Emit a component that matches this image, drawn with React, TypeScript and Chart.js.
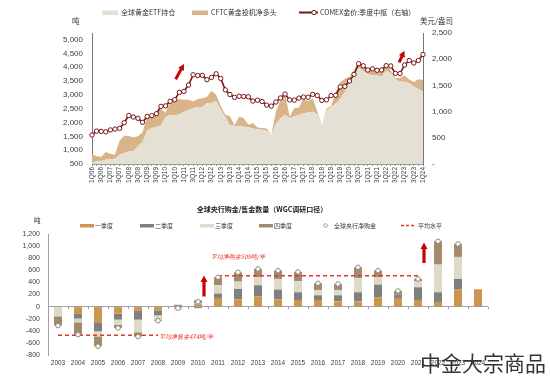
import React, { useEffect, useRef } from 'react';
import { Chart, registerables } from 'chart.js';

Chart.register(...registerables);

const FONT = '"Liberation Sans", "Noto Sans CJK SC", sans-serif';
const CJK = '"Noto Sans CJK SC", "Liberation Sans", sans-serif';

// ---------- Top chart data ----------
const quarterLabels = [
  '1Q06', '2Q06', '3Q06', '4Q06', '1Q07', '2Q07', '3Q07', '4Q07',
  '1Q08', '2Q08', '3Q08', '4Q08', '1Q09', '2Q09', '3Q09', '4Q09',
  '1Q10', '2Q10', '3Q10', '4Q10', '1Q11', '2Q11', '3Q11', '4Q11',
  '1Q12', '2Q12', '3Q12', '4Q12', '1Q13', '2Q13', '3Q13', '4Q13',
  '1Q14', '2Q14', '3Q14', '4Q14', '1Q15', '2Q15', '3Q15', '4Q15',
  '1Q16', '2Q16', '3Q16', '4Q16', '1Q17', '2Q17', '3Q17', '4Q17',
  '1Q18', '2Q18', '3Q18', '4Q18', '1Q19', '2Q19', '3Q19', '4Q19',
  '1Q20', '2Q20', '3Q20', '4Q20', '1Q21', '2Q21', '3Q21', '4Q21',
  '1Q22', '2Q22', '3Q22', '4Q22', '1Q23', '2Q23', '3Q23', '4Q23',
  '1Q24',
];
const leftTicks = [500, 1000, 1500, 2000, 2500, 3000, 3500, 4000, 4500, 5000];
const rightTicks = [0, 500, 1000, 1500, 2000, 2500];

// 全球黄金ETF持仓 (吨)
const etfHoldings = [
  560, 590, 610, 650, 670, 690, 830, 900,
  950, 960, 1150, 1300, 1700, 1800, 1850, 1900,
  2200, 2280, 2260, 2300, 2380, 2450, 2520, 2560,
  2560, 2700, 2700, 2790, 2450, 2200, 1900, 1880,
  1860, 1850, 1830, 1780, 1760, 1740, 1700, 1560,
  1950, 2150, 2280, 2150, 2230, 2270, 2330, 2360,
  2400, 2300, 1900, 2420, 2560, 2680, 2850, 3100,
  3550, 3900, 3980, 3850, 3750, 3700, 3700, 3650,
  3880, 3780, 3550, 3480, 3470, 3420, 3300, 3200,
  3120,
];

// CFTC黄金投机净多头 (吨), stacked above ETF
const cftcNetLong = [
  290, 190, 150, 280, 200, 140, 520, 620,
  560, 510, 350, 350, 500, 450, 500, 600,
  150, 470, 570, 540, 440, 370, 240, 290,
  320, 220, 450, 210, 150, 80, 330, 20,
  360, 300, 90, 200, 60, 60, 80, 0,
  450, 650, 770, 50, 290, 260, 550, 400,
  480, 100, 0, 80, 40, 420, 600, 480,
  100, 0, 220, 230, 150, 200, 130, 230,
  250, 100, 50, 140, 230, 130, 160, 360,
  420,
];

// COMEX金价:季度中枢 (美元/盎司)
const comexGold = [
  554, 628, 622, 614, 650, 667, 680, 788,
  925, 896, 872, 795, 908, 922, 960, 1100,
  1109, 1197, 1227, 1367, 1386, 1506, 1702, 1688,
  1691, 1609, 1652, 1722, 1632, 1415, 1326, 1272,
  1293, 1288, 1282, 1201, 1218, 1192, 1124, 1105,
  1183, 1260, 1335, 1222, 1219, 1257, 1278, 1275,
  1329, 1306, 1213, 1226, 1304, 1310, 1472, 1481,
  1583, 1711, 1915, 1874, 1794, 1816, 1789, 1795,
  1877, 1871, 1729, 1726, 1890, 1976, 1928, 1976,
  2090,
];

// ---------- Bottom chart data ----------
const years = [
  '2003', '2004', '2005', '2006', '2007', '2008', '2009', '2010', '2011', '2012', '2013',
  '2014', '2015', '2016', '2017', '2018', '2019', '2020', '2021', '2022', '2023', '2024',
];
const q1 = [0, -121, -270, -116, -72, -72, -15, 40, 143, 121, 171, 116, 110, 110, 88, 83, 149, 143, 110, 77, 281, 287];
const q2 = [0, -77, -138, -99, -143, -72, -10, -25, 72, 171, 182, 165, 127, 77, 99, 154, 215, 55, 209, 160, 176, null];
const q3 = [-160, -61, -83, -83, -209, -72, -30, 10, 138, 121, 132, 176, 182, 88, 88, 237, 121, 0, 99, 457, 364, null];
const q4 = [-155, -204, -165, -55, -72, -17, 30, 55, 132, 154, 138, 138, 154, 110, 99, 176, 110, 61, 39, 386, 215, null];
const netPurchases = [-315, -463, -656, -353, -496, -233, -25, 80, 485, 567, 623, 595, 573, 385, 374, 650, 595, 259, 457, 1080, 1036, null];
const avgSellLine = [-474, -474, -474, -474, -474, -474, null, null, null, null, null, null, null, null, null, null, null, null, null, null, null, null];
const avgBuyLine = [null, null, null, null, null, null, null, null, 509, 509, 509, 509, 509, 509, 509, 509, 509, 509, 509, null, null, null];

const C_ETF = '#E4E1D4';
const C_CFTC = '#D8B488';
const C_GOLD = '#7B1416';
const C_Q1 = '#CC9650';
const C_Q2 = '#808080';
const C_Q3 = '#DDDAC5';
const C_Q4 = '#A5896B';
const C_RED = '#E3342B';
const C_ARROW = '#C80000';

function drawArrow(ctx: CanvasRenderingContext2D, x1: number, y1: number, x2: number, y2: number, shaft: number, headLen: number, headW: number) {
  const dx = x2 - x1;
  const dy = y2 - y1;
  const len = Math.hypot(dx, dy);
  const ux = dx / len;
  const uy = dy / len;
  const px = -uy;
  const py = ux;
  const bx = x2 - ux * headLen;
  const by = y2 - uy * headLen;
  ctx.beginPath();
  ctx.moveTo(x1 + px * shaft / 2, y1 + py * shaft / 2);
  ctx.lineTo(bx + px * shaft / 2, by + py * shaft / 2);
  ctx.lineTo(bx + px * headW / 2, by + py * headW / 2);
  ctx.lineTo(x2, y2);
  ctx.lineTo(bx - px * headW / 2, by - py * headW / 2);
  ctx.lineTo(bx - px * shaft / 2, by - py * shaft / 2);
  ctx.lineTo(x1 - px * shaft / 2, y1 - py * shaft / 2);
  ctx.closePath();
  ctx.fillStyle = C_ARROW;
  ctx.fill();
}

const topDecor = {
  id: 'topDecor',
  afterDraw(chart: any) {
    const { ctx } = chart;
    const x = chart.scales.x;
    const yl = chart.scales.y;
    ctx.save();
    ctx.fillStyle = '#333';
    ctx.textBaseline = 'middle';
    ctx.textAlign = 'left';
    ctx.font = `7.5px ${CJK}`;
    ctx.fillText('吨', 72, 21);
    ctx.fillText('美元/盎司', 420, 21);

    // legend
    const ly = 12.5;
    ctx.font = `7px ${CJK}`;
    ctx.fillStyle = C_ETF;
    ctx.fillRect(102, ly - 2, 16, 4.5);
    ctx.fillStyle = '#333';
    ctx.fillText(chart.data.datasets[0].label, 121, ly);
    ctx.fillStyle = C_CFTC;
    ctx.fillRect(192, ly - 2, 16, 4.5);
    ctx.fillStyle = '#333';
    ctx.fillText(chart.data.datasets[1].label, 211, ly);
    ctx.strokeStyle = C_GOLD;
    ctx.lineWidth = 2;
    ctx.beginPath();
    ctx.moveTo(299, ly);
    ctx.lineTo(318, ly);
    ctx.stroke();
    ctx.beginPath();
    ctx.arc(314, ly, 2.2, 0, Math.PI * 2);
    ctx.fillStyle = '#fff';
    ctx.fill();
    ctx.lineWidth = 1;
    ctx.stroke();
    ctx.fillStyle = '#333';
    ctx.fillText(chart.data.datasets[2].label, 320, ly);

    // arrows
    drawArrow(ctx, x.getPixelForValue(18.2), yl.getPixelForValue(3560), x.getPixelForValue(20.0), yl.getPixelForValue(4110), 3, 6, 6.5);
    drawArrow(ctx, x.getPixelForValue(66.8), yl.getPixelForValue(4170), x.getPixelForValue(67.95), yl.getPixelForValue(4590), 3, 6, 6.5);
    ctx.restore();
  },
};

const bottomDecor = {
  id: 'bottomDecor',
  afterDraw(chart: any) {
    const { ctx } = chart;
    const x = chart.scales.x;
    const y = chart.scales.y;
    ctx.save();
    ctx.textBaseline = 'middle';
    // title
    ctx.fillStyle = '#222';
    ctx.textAlign = 'center';
    ctx.font = `bold 7px ${CJK}`;
    ctx.fillText('全球央行购金/售金数量（WGC调研口径）', 262, 14.5);
    // unit
    ctx.textAlign = 'left';
    ctx.font = `6.5px ${CJK}`;
    ctx.fillStyle = '#333';
    ctx.fillText('吨', 34, 26);

    // legend
    const ly = 30.5;
    ctx.font = `6px ${CJK}`;
    const ds = chart.data.datasets;
    const boxes = [
      { sx: 80, tx: 95, c: C_Q1, label: ds[0].label },
      { sx: 140, tx: 155, c: C_Q2, label: ds[1].label },
      { sx: 200, tx: 215, c: C_Q3, label: ds[2].label },
      { sx: 259, tx: 274, c: C_Q4, label: ds[3].label },
    ];
    boxes.forEach((b) => {
      ctx.fillStyle = b.c;
      ctx.fillRect(b.sx, ly - 1.5, 14, 3.5);
      ctx.fillStyle = '#333';
      ctx.fillText(b.label, b.tx, ly);
    });
    ctx.beginPath();
    ctx.arc(325.5, ly, 1.8, 0, Math.PI * 2);
    ctx.fillStyle = '#fff';
    ctx.fill();
    ctx.strokeStyle = '#888';
    ctx.lineWidth = 0.8;
    ctx.stroke();
    ctx.fillStyle = '#333';
    ctx.fillText(ds[4].label, 334, ly);
    ctx.strokeStyle = C_RED;
    ctx.lineWidth = 1.3;
    ctx.setLineDash([3, 2]);
    ctx.beginPath();
    ctx.moveTo(401, ly);
    ctx.lineTo(416, ly);
    ctx.stroke();
    ctx.setLineDash([]);
    ctx.fillStyle = '#333';
    ctx.fillText(ds[5].label, 418, ly);

    // small category ticks on the zero line
    const zy = y.getPixelForValue(0);
    ctx.strokeStyle = '#a0a0a0';
    ctx.lineWidth = 1;
    for (let k = 0; k <= years.length; k++) {
      const px = Math.round(x.getPixelForValue(k - 0.5)) + 0.5;
      ctx.beginPath();
      ctx.moveTo(px, zy);
      ctx.lineTo(px, zy + 2.5);
      ctx.stroke();
    }

    // average labels
    ctx.font = `italic 6px ${CJK}`;
    ctx.fillStyle = C_RED;
    ctx.textAlign = 'left';
    ctx.fillText('平均净售金474吨/年', x.getPixelForValue(5) + 1, y.getPixelForValue(-474) + 1.5);
    ctx.textAlign = 'center';
    ctx.fillText('平均净购金509吨/年', x.getPixelForValue(9), y.getPixelForValue(826));

    // arrows
    drawArrow(ctx, x.getPixelForValue(7.3), y.getPixelForValue(165), x.getPixelForValue(7.3), y.getPixelForValue(515), 3.2, 6.5, 7);
    drawArrow(ctx, x.getPixelForValue(18.3), y.getPixelForValue(722), x.getPixelForValue(18.3), y.getPixelForValue(1058), 3.2, 6.5, 7);

    // watermark
    ctx.font = `21px ${CJK}`;
    ctx.textAlign = 'right';
    ctx.fillStyle = '#333';
    ctx.fillText('中金大宗商品', 546, 168.5);
    ctx.restore();
  },
};

export default function App() {
  const topRef = useRef<HTMLCanvasElement>(null);
  const botRef = useRef<HTMLCanvasElement>(null);

  useEffect(() => {
    const tickFont = { family: FONT, size: 8 };
    const top = new Chart(topRef.current as HTMLCanvasElement, {
      type: 'line',
      data: {
        labels: quarterLabels,
        datasets: [
          {
            label: '全球黄金ETF持仓',
            data: etfHoldings,
            yAxisID: 'y',
            backgroundColor: C_ETF,
            borderWidth: 0,
            pointRadius: 0,
            fill: 'origin',
            order: 1,
          },
          {
            label: 'CFTC黄金投机净多头',
            data: cftcNetLong,
            yAxisID: 'y',
            backgroundColor: C_CFTC,
            borderWidth: 0,
            pointRadius: 0,
            fill: '-1',
            order: 2,
          },
          {
            label: 'COMEX金价:季度中枢（右轴）',
            data: comexGold,
            yAxisID: 'y1',
            borderColor: C_GOLD,
            borderWidth: 1.6,
            pointRadius: 2.2,
            pointBackgroundColor: '#fff',
            pointBorderColor: C_GOLD,
            pointBorderWidth: 1,
            fill: false,
            tension: 0,
            order: 0,
          },
        ],
      },
      options: {
        animation: false,
        responsive: false,
        devicePixelRatio: 1,
        layout: { padding: { top: 33, left: 0, right: 0, bottom: 0 } },
        plugins: { legend: { display: false }, tooltip: { enabled: false }, title: { display: false } },
        scales: {
          x: {
            offset: false,
            grid: { display: true, drawOnChartArea: false, tickLength: 2, color: '#999', offset: false },
            border: { display: true, color: '#999' },
            ticks: {
              autoSkip: false,
              minRotation: 90,
              maxRotation: 90,
              padding: 1,
              font: { family: FONT, size: 6.5 },
              color: '#404040',
              callback: (_v: any, i: number) => (i % 2 === 0 ? quarterLabels[i] : ''),
            },
            afterFit: (s: any) => { s.height = 31; },
          },
          y: {
            position: 'left',
            stacked: true,
            min: 500,
            max: 5234,
            grid: { display: false, drawTicks: false },
            border: { display: true, color: '#777' },
            ticks: {
              autoSkip: false,
              padding: 9,
              font: tickFont,
              color: '#404040',
              callback: (v: any) => Number(v).toLocaleString('en-US'),
            },
            afterBuildTicks: (s: any) => { s.ticks = leftTicks.map((v) => ({ value: v })); },
            afterFit: (s: any) => { s.width = 92; },
          },
          y1: {
            position: 'right',
            min: 0,
            max: 2500,
            grid: { display: false, drawTicks: false },
            border: { display: true, color: '#777' },
            ticks: {
              autoSkip: false,
              padding: 9,
              font: tickFont,
              color: '#404040',
              callback: (v: any) => (Number(v) === 0 ? '-' : Number(v).toLocaleString('en-US')),
            },
            afterBuildTicks: (s: any) => { s.ticks = rightTicks.map((v) => ({ value: v })); },
            afterFit: (s: any) => { s.width = 127; },
          },
        },
      },
      plugins: [topDecor],
    });

    const bot = new Chart(botRef.current as HTMLCanvasElement, {
      type: 'bar',
      data: {
        labels: years,
        datasets: [
          { label: '一季度', data: q1, backgroundColor: C_Q1, stack: 'q', order: 3 },
          { label: '二季度', data: q2, backgroundColor: C_Q2, stack: 'q', order: 3 },
          { label: '三季度', data: q3, backgroundColor: C_Q3, stack: 'q', order: 3 },
          { label: '四季度', data: q4, backgroundColor: C_Q4, stack: 'q', order: 3 },
          {
            type: 'line',
            label: '全球央行净购金',
            data: netPurchases,
            stack: 'net',
            showLine: false,
            pointRadius: 2.3,
            pointBackgroundColor: '#fff',
            pointBorderColor: '#8a8a8a',
            pointBorderWidth: 1,
            order: 0,
          },
          {
            type: 'line',
            label: '平均水平',
            data: avgSellLine,
            stack: 'avgS',
            borderColor: C_RED,
            borderWidth: 1.6,
            borderDash: [4, 3],
            pointRadius: 0,
            spanGaps: false,
            order: 1,
          },
          {
            type: 'line',
            label: '平均水平 ',
            data: avgBuyLine,
            stack: 'avgB',
            borderColor: C_RED,
            borderWidth: 1.6,
            borderDash: [4, 3],
            pointRadius: 0,
            spanGaps: false,
            order: 1,
          },
        ] as any,
      },
      options: {
        animation: false,
        responsive: false,
        devicePixelRatio: 1,
        layout: { padding: { top: 39, left: 0, right: 62, bottom: 0 } },
        datasets: { bar: { categoryPercentage: 1, barPercentage: 0.4 } },
        plugins: { legend: { display: false }, tooltip: { enabled: false }, title: { display: false } },
        scales: {
          x: {
            stacked: true,
            grid: { display: false, drawTicks: false },
            border: { display: false },
            ticks: { padding: 4, font: { family: FONT, size: 6.5 }, color: '#404040', autoSkip: false, maxRotation: 0 },
            afterFit: (s: any) => { s.height = 26; },
          },
          y: {
            stacked: true,
            min: -800,
            max: 1200,
            grid: {
              drawTicks: false,
              color: (c: any) => (c.tick && c.tick.value === 0 ? '#a0a0a0' : 'rgba(0,0,0,0)'),
            },
            border: { display: true, color: '#a0a0a0' },
            ticks: {
              stepSize: 200,
              padding: 8,
              font: { family: FONT, size: 7 },
              color: '#404040',
              callback: (v: any) => Number(v).toLocaleString('en-US'),
            },
            afterFit: (s: any) => { s.width = 48; },
          },
        },
      },
      plugins: [bottomDecor],
    });

    return () => {
      top.destroy();
      bot.destroy();
    };
  }, []);

  return (
    <div style={{ position: 'fixed', left: 0, top: 0, width: 550, height: 381, background: '#fff' }}>
      <canvas ref={topRef} width={550} height={195} style={{ position: 'absolute', left: 0, top: 0, width: 550, height: 195 }} />
      <canvas ref={botRef} width={550} height={186} style={{ position: 'absolute', left: 0, top: 195, width: 550, height: 186 }} />
    </div>
  );
}
